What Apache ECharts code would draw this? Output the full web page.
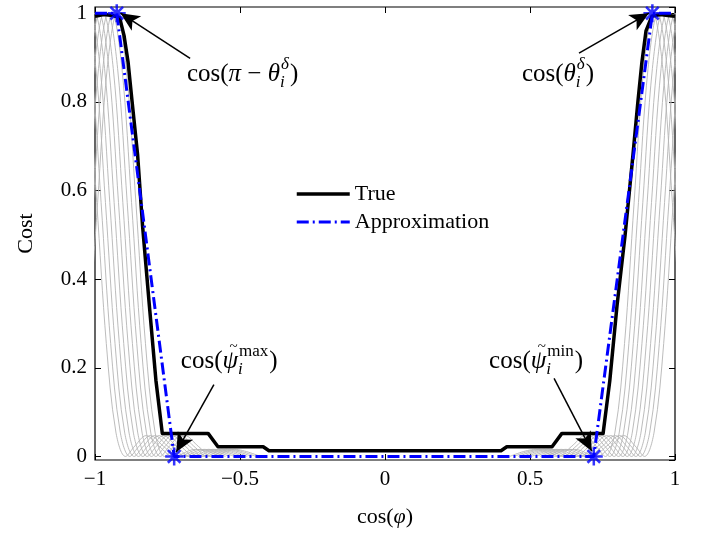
<!DOCTYPE html>
<html><head><meta charset="utf-8">
<script src="https://cdn.jsdelivr.net/npm/echarts@6/dist/echarts.min.js"></script>
<style>html,body{margin:0;padding:0;background:#fff}#c{width:707px;height:533px}</style>
</head><body><div id="c"></div>
<script>
// ---------------- data ----------------
const xTickLabels = ['−1', '−0.5', '0', '0.5', '1'];
const yTickLabels = ['0', '0.2', '0.4', '0.6', '0.8', '1'];

// shared vertical profile of the grey candidate curves
const grayProfileY = [0.255, 0.573, 0.875, 1, 0.875, 0.573, 0.255, 0.055, 0, 0.024, 0.047, 0.023, 0, 0.016, 0];
// x positions of each grey curve, left family
const grayLeftX = [
  [-1.159, -1.126, -1.093, -1.06, -1.027, -0.994, -0.961, -0.928, -0.895, -0.862, -0.824, -0.779, -0.73, -0.654, -0.565],
  [-1.144, -1.111, -1.078, -1.045, -1.012, -0.979, -0.946, -0.913, -0.88, -0.847, -0.809, -0.764, -0.715, -0.639, -0.55],
  [-1.129, -1.096, -1.063, -1.03, -0.997, -0.964, -0.931, -0.898, -0.865, -0.832, -0.794, -0.749, -0.70, -0.624, -0.535],
  [-1.114, -1.081, -1.048, -1.015, -0.982, -0.949, -0.916, -0.883, -0.85, -0.817, -0.779, -0.734, -0.685, -0.609, -0.52],
  [-1.099, -1.066, -1.033, -1.0, -0.967, -0.934, -0.901, -0.868, -0.835, -0.802, -0.764, -0.719, -0.67, -0.594, -0.505],
  [-1.084, -1.051, -1.018, -0.985, -0.952, -0.919, -0.886, -0.853, -0.82, -0.787, -0.749, -0.704, -0.655, -0.579, -0.49],
  [-1.069, -1.036, -1.003, -0.97, -0.937, -0.904, -0.871, -0.838, -0.805, -0.772, -0.734, -0.689, -0.64, -0.564, -0.475],
  [-1.054, -1.021, -0.988, -0.955, -0.922, -0.889, -0.856, -0.823, -0.79, -0.757, -0.719, -0.674, -0.625, -0.549, -0.46],
  [-1.039, -1.006, -0.973, -0.94, -0.907, -0.874, -0.841, -0.808, -0.775, -0.742, -0.704, -0.659, -0.61, -0.534, -0.445],
  [-1.024, -0.991, -0.958, -0.925, -0.892, -0.859, -0.826, -0.793, -0.76, -0.727, -0.689, -0.644, -0.595, -0.519, -0.43]
];
// right family
const grayRightX = [
  [1.159, 1.126, 1.093, 1.06, 1.027, 0.994, 0.961, 0.928, 0.895, 0.862, 0.824, 0.779, 0.73, 0.654, 0.565],
  [1.144, 1.111, 1.078, 1.045, 1.012, 0.979, 0.946, 0.913, 0.88, 0.847, 0.809, 0.764, 0.715, 0.639, 0.55],
  [1.129, 1.096, 1.063, 1.03, 0.997, 0.964, 0.931, 0.898, 0.865, 0.832, 0.794, 0.749, 0.70, 0.624, 0.535],
  [1.114, 1.081, 1.048, 1.015, 0.982, 0.949, 0.916, 0.883, 0.85, 0.817, 0.779, 0.734, 0.685, 0.609, 0.52],
  [1.099, 1.066, 1.033, 1.0, 0.967, 0.934, 0.901, 0.868, 0.835, 0.802, 0.764, 0.719, 0.67, 0.594, 0.505],
  [1.084, 1.051, 1.018, 0.985, 0.952, 0.919, 0.886, 0.853, 0.82, 0.787, 0.749, 0.704, 0.655, 0.579, 0.49],
  [1.069, 1.036, 1.003, 0.97, 0.937, 0.904, 0.871, 0.838, 0.805, 0.772, 0.734, 0.689, 0.64, 0.564, 0.475],
  [1.054, 1.021, 0.988, 0.955, 0.922, 0.889, 0.856, 0.823, 0.79, 0.757, 0.719, 0.674, 0.625, 0.549, 0.46],
  [1.039, 1.006, 0.973, 0.94, 0.907, 0.874, 0.841, 0.808, 0.775, 0.742, 0.704, 0.659, 0.61, 0.534, 0.445],
  [1.024, 0.991, 0.958, 0.925, 0.892, 0.859, 0.826, 0.793, 0.76, 0.727, 0.689, 0.644, 0.595, 0.519, 0.43]
];

const trueCurve = [
  [-1, 0.993], [-0.97, 0.997], [-0.94, 0.995], [-0.915, 0.99], [-0.9, 0.95], [-0.886, 0.89], [-0.872, 0.80],
  [-0.853, 0.68], [-0.836, 0.52], [-0.813, 0.344], [-0.79, 0.172], [-0.768, 0.052], [-0.61, 0.052],
  [-0.576, 0.022], [-0.42, 0.022], [-0.40, 0.013], [0.40, 0.013], [0.42, 0.022], [0.576, 0.022],
  [0.61, 0.052], [0.752, 0.052], [0.775, 0.17], [0.80, 0.34], [0.828, 0.50], [0.855, 0.68],
  [0.872, 0.80], [0.886, 0.89], [0.90, 0.96], [0.92, 0.993], [0.95, 0.997], [0.975, 0.995], [1, 0.993]
];
const approxCurve = [[-1, 1], [-0.925, 1], [-0.727, 0], [0.72, 0], [0.922, 1], [1, 1]];
const starPoints = [[-0.925, 1], [-0.727, 0], [0.72, 0], [0.922, 1]];

// annotation arrows: [tail, head] in data coordinates
const arrowSegments = [
  [[-0.672, 0.898], [-0.912, 1.0]],
  [[0.669, 0.91], [0.91, 1.0]],
  [[-0.59, 0.162], [-0.72, 0.01]],
  [[0.583, 0.176], [0.713, 0.012]]
];

// ---------------- styles ----------------
const SERIF = '"Liberation Serif", "Times New Roman", serif';
const starPath = 'path://M0 8.6 L20 8.6 L20 11.4 L0 11.4 Z M8.6 0 L11.4 0 L11.4 20 L8.6 20 Z M2 4 L4 2 L18 16 L16 18 Z M16 2 L18 4 L4 18 L2 16 Z';

const chart = echarts.init(document.getElementById('c'), null, {renderer: 'canvas'});

const series = [];
grayLeftX.concat(grayRightX).forEach((xs) => {
  series.push({
    type: 'line', silent: true, symbol: 'none', smooth: 0.35, z: 1,
    data: xs.map((x, i) => [x, grayProfileY[i]]),
    lineStyle: {color: '#b4b4b4', width: 0.9}
  });
});
series.push({
  name: 'True', type: 'line', symbol: 'none', z: 3, data: trueCurve,
  lineStyle: {color: '#000', width: 3.5, join: 'round'}, itemStyle: {color: '#000'}
});
series.push({
  name: 'Approximation', type: 'line', symbol: 'none', z: 4, data: approxCurve,
  lineStyle: {color: '#0000ff', width: 3, type: [12, 4, 2, 4]}, itemStyle: {color: '#0000ff'}
});
series.push({
  type: 'scatter', z: 5, data: starPoints, symbol: starPath, symbolSize: 18, clip: false,
  itemStyle: {color: '#0000ff'}, silent: true,
  markLine: {
    silent: true, symbol: ['none', 'arrow'], symbolSize: [13, 19], z: 6,
    label: {show: false}, emphasis: {disabled: true},
    lineStyle: {color: '#000', width: 1.5, type: 'solid'}, itemStyle: {color: '#000'},
    data: arrowSegments.map(s => [{coord: s[0]}, {coord: s[1]}])
  }
});

const axisCommon = {
  axisLine: {show: false, onZero: false}, splitLine: {show: false},
  axisTick: {show: true, inside: true, length: 6, lineStyle: {color: '#000', width: 1}}
};

chart.setOption({
  animation: false,
  backgroundColor: '#fff',
  grid: {left: 95, right: 32, top: 7, bottom: 71, show: true, borderColor: '#000', borderWidth: 1.2, backgroundColor: 'transparent'},
  legend: {
    data: [
      {name: 'True', lineStyle: {width: 3.5, color: '#000'}},
      {name: 'Approximation', lineStyle: {width: 3, color: '#0000ff', type: [12, 4, 2, 4]}}
    ],
    orient: 'vertical', left: 290, top: 178,
    itemWidth: 53, itemHeight: 14, itemGap: 6,
    itemStyle: {opacity: 0},
    textStyle: {fontFamily: SERIF, fontSize: 22, color: '#000'}
  },
  xAxis: [
    Object.assign({}, axisCommon, {
      type: 'value', min: -1, max: 1, interval: 0.5,
      axisLabel: {margin: 9, fontFamily: SERIF, fontSize: 21, color: '#000',
        formatter: v => xTickLabels[Math.round((v + 1) / 0.5)] || ''},
      name: '{n|cos(}{i|φ}{n|)}', nameLocation: 'middle', nameGap: 46,
      nameTextStyle: {rich: {n: {fontFamily: SERIF, fontSize: 22, color: '#000'}, i: {fontFamily: SERIF, fontSize: 22, fontStyle: 'italic', color: '#000'}}}
    }),
    Object.assign({}, axisCommon, {type: 'value', position: 'top', min: -1, max: 1, interval: 0.5, axisLabel: {show: false}})
  ],
  yAxis: [
    Object.assign({}, axisCommon, {
      type: 'value', min: -0.008, max: 1.014, splitNumber: 5,
      axisLabel: {margin: 8, fontFamily: SERIF, fontSize: 21, color: '#000', showMinLabel: false, showMaxLabel: false,
        formatter: v => {
          if (v < -0.001 || v > 1.001) return '';
          return yTickLabels[Math.round(v / 0.2)] || '';
        }},
      name: 'Cost', nameLocation: 'middle', nameGap: 58,
      nameTextStyle: {fontFamily: SERIF, fontSize: 22, color: '#000'}
    }),
    Object.assign({}, axisCommon, {type: 'value', position: 'right', min: -0.008, max: 1.014, splitNumber: 5, axisLabel: {show: false}})
  ],
  series: series
});

// ---------------- math annotations ----------------
const measureCtx = document.createElement('canvas').getContext('2d');
function fontStr(size, italic) { return (italic ? 'italic ' : '') + size + 'px ' + SERIF; }
function textW(t, size, italic) { measureCtx.font = fontStr(size, italic); return measureCtx.measureText(t).width; }

const MAIN = 25, SCRIPT = 17;
const annotations = [
  {at: [-0.683, 0.861], pieces: [{t: 'cos('}, {t: 'π', it: true}, {t: ' − '}, {t: 'θ', it: true}, {sup: 'δ', supIt: true, sub: 'i'}, {t: ')'}]},
  {at: [0.472, 0.861], pieces: [{t: 'cos('}, {t: 'θ', it: true}, {sup: 'δ', supIt: true, sub: 'i'}, {t: ')'}]},
  {at: [-0.704, 0.215], pieces: [{t: 'cos('}, {t: 'ψ', it: true, tilde: true}, {sup: 'max', supIt: false, sub: 'i'}, {t: ')'}]},
  {at: [0.359, 0.215], pieces: [{t: 'cos('}, {t: 'ψ', it: true, tilde: true}, {sup: 'min', supIt: false, sub: 'i'}, {t: ')'}]}
];

function txt(x, y, t, size, italic) {
  return {type: 'text', silent: true, z: 20, style: {x: x, y: y, text: t, font: fontStr(size, italic), fill: '#000', align: 'left', verticalAlign: 'middle', textAlign: 'left', textVerticalAlign: 'middle'}};
}

const elements = [];
annotations.forEach(a => {
  const p = chart.convertToPixel({xAxisIndex: 0, yAxisIndex: 0}, a.at);
  let x = p[0];
  const y = p[1];
  a.pieces.forEach(pc => {
    if (pc.sup !== undefined) {
      const ws = textW(pc.sup, SCRIPT, pc.supIt);
      const wi = textW(pc.sub, SCRIPT, true);
      elements.push(txt(x + 1, y - 10, pc.sup, SCRIPT, pc.supIt));
      elements.push(txt(x, y + 8, pc.sub, SCRIPT, true));
      x += Math.max(ws, wi) + 2;
    } else {
      const w = textW(pc.t, MAIN, pc.it);
      elements.push(txt(x, y, pc.t, MAIN, pc.it));
      if (pc.tilde) {
        elements.push(txt(x + w * 0.45, y - 14, '~', 15, false));
      }
      x += w;
    }
  });
});
chart.setOption({graphic: {elements: elements}});
</script>
</body></html>
